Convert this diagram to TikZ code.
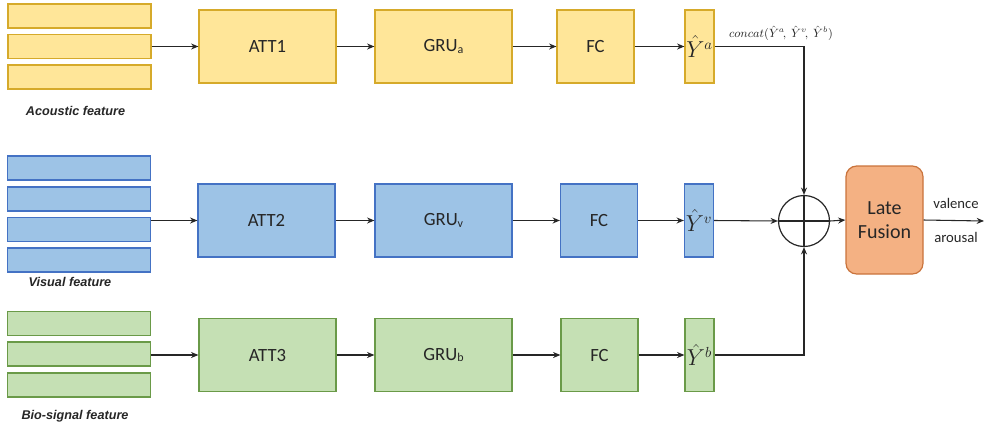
\documentclass[tikz,border=0pt]{standalone}
\usepackage{fontspec}
\setmainfont{Carlito}
\newfontfamily\labfont{Liberation Sans}
\usetikzlibrary{arrows.meta}
\definecolor{yfill}{HTML}{FFE699}
\definecolor{ydraw}{HTML}{D6AA2A}
\definecolor{bfill}{HTML}{9DC3E6}
\definecolor{bdraw}{HTML}{4472C4}
\definecolor{gfill}{HTML}{C5E0B4}
\definecolor{gdraw}{HTML}{6A9A48}
\definecolor{ofill}{HTML}{F4B183}
\definecolor{odraw}{HTML}{C9733C}
\definecolor{txt}{HTML}{262626}
\begin{document}
\begin{tikzpicture}[x=0.75pt,y=-0.75pt,
  box/.style={draw, line width=0.9pt, inner sep=0pt, anchor=center, text=txt,
              font=\fontsize{14}{16}\selectfont},
  yb/.style={box, fill=yfill, draw=ydraw},
  bb/.style={box, fill=bfill, draw=bdraw},
  gb/.style={box, fill=gfill, draw=gdraw},
  feat/.style={minimum width=143*0.75pt, minimum height=24*0.75pt},
  big/.style={minimum width=137*0.75pt, minimum height=73*0.75pt},
  fc/.style={minimum width=77*0.75pt, minimum height=73*0.75pt},
  yh/.style={minimum width=29*0.75pt, minimum height=73*0.75pt, font=\fontsize{16}{18}\selectfont},
  conn/.style={draw=txt, line width=0.8pt, -{Stealth[length=5.5pt,width=4.5pt]}},
  plain/.style={draw=txt, line width=0.8pt},
  lab/.style={font=\labfont\bfseries\itshape\fontsize{9.5}{11}\selectfont, text=txt, inner sep=0pt}
]
\useasboundingbox (0,0) rectangle (984,429);
% acoustic
\node[yb,feat] (a1) at (79.5,16) {};
\node[yb,feat] (a2) at (79.5,46.5) {};
\node[yb,feat] (a3) at (79.5,77) {};
\node[lab] (la) at (75.5,111) {Acoustic feature};
% visual
\node[bb,feat] (v1) at (79,168) {};
\node[bb,feat] (v2) at (79,199) {};
\node[bb,feat] (v3) at (79,229.5) {};
\node[bb,feat] (v4) at (79,260) {};
\node[lab] (lv) at (70,282) {Visual feature};
% bio
\node[gb,feat] (b1) at (79,323.5) {};
\node[gb,feat] (b2) at (79,354) {};
\node[gb,feat] (b3) at (79,385) {};
\node[lab] (lb) at (75,416) {Bio-signal feature};
% row a
\node[yb,big] (att1) at (267.5,46.5) {ATT1};
\node[yb,big] (grua) at (443.5,46.5) {GRU{\fontsize{9}{9}\selectfont\raisebox{-1pt}{a}}};
\node[yb,fc] (fca) at (595.5,46.5) {FC};
\node[yb,yh] (ya) at (699.5,46.5) {$\hat{Y}^{a}$};
% row v
\node[bb,big] (att2) at (266.5,220.5) {ATT2};
\node[bb,big] (gruv) at (443.5,220.5) {GRU{\fontsize{9}{9}\selectfont\raisebox{-1pt}{v}}};
\node[bb,fc] (fcv) at (599,220.5) {FC};
\node[bb,yh] (yv) at (699,220.5) {$\hat{Y}^{v}$};
% row b
\node[gb,big] (att3) at (267.5,355) {ATT3};
\node[gb,big] (grub) at (443.5,355) {GRU{\fontsize{9}{9}\selectfont\raisebox{-1pt}{b}}};
\node[gb,fc] (fcb) at (599.5,355) {FC};
\node[gb,yh] (yb) at (699.5,355) {$\hat{Y}^{b}$};
% fusion
\node[draw=txt, line width=0.9pt, circle, minimum size=51*0.75pt, inner sep=0pt] (circ) at (804,221) {};
\draw[plain] (circ.north) -- (circ.south);
\draw[plain] (circ.west) -- (circ.east);
\node[box, fill=ofill, draw=odraw, rounded corners=8pt, minimum width=77*0.75pt,
      minimum height=108*0.75pt, align=center, font=\fontsize{15}{18}\selectfont] (lf) at (884.5,220) {Late\\Fusion};
\coordinate (out) at (984,221);
\node[text=txt, inner sep=0pt, font=\fontsize{9}{11}\selectfont] (cc) at (781,33) {$concat(\hat{Y}^{a}\!,\ \hat{Y}^{v}\!,\ \hat{Y}^{b})$};
\node[text=txt, inner sep=0pt, font=\fontsize{11}{13}\selectfont] (val) at (956,203) {valence};
\node[text=txt, inner sep=0pt, font=\fontsize{11}{13}\selectfont] (aro) at (956,237) {arousal};
% connectors
\draw[conn] (a2.east) -- (att1.west);
\draw[conn] (att1) -- (grua);
\draw[conn] (grua) -- (fca);
\draw[conn] (fca) -- (ya);
\draw[conn] (v3.east |- att2.west) -- (att2.west);
\draw[conn] (att2) -- (gruv);
\draw[conn] (gruv) -- (fcv);
\draw[conn] (fcv) -- (yv);
\draw[conn] (b2.east |- att3.west) -- (att3.west);
\draw[conn] (att3) -- (grub);
\draw[conn] (grub) -- (fcb);
\draw[conn] (fcb) -- (yb);
\draw[conn] (ya.east) -| (circ.north);
\draw[conn] (yv.east) -- (circ.west);
\draw[conn] (yb.east) -| (circ.south);
\draw[conn] (circ.east) -- (lf.west);
\draw[conn] (lf.east) -- (out);
\end{tikzpicture}
\end{document}
